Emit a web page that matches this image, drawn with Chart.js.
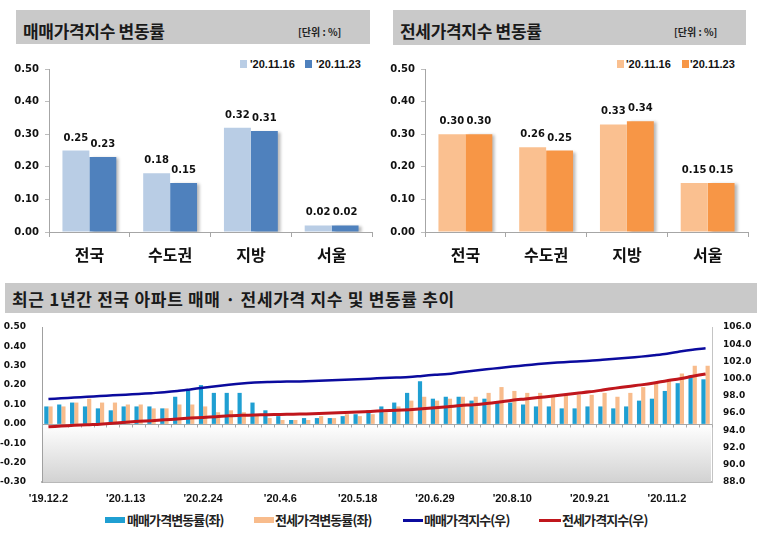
<!DOCTYPE html>
<html>
<head>
<meta charset="utf-8">
<script src="https://cdn.jsdelivr.net/npm/chart.js@4.4.0/dist/chart.umd.min.js"></script>
<style>
  body { margin: 0; width: 762px; height: 538px; background: #fff; overflow: hidden; position: relative; font-family: "Noto Sans CJK KR", sans-serif; }
  .bar { position: absolute; background: #c9c9c9; }
  .ttl { position: absolute; font-weight: bold; color: #1a1a1a; white-space: nowrap; }
  .unit { position: absolute; font-size: 10px; line-height: 10px; font-weight: bold; color: #222; white-space: nowrap; }
  .lg { position: absolute; font-family: "Liberation Sans", Arial, sans-serif; font-weight: bold; font-size: 11px; line-height: 11px; color: #111; white-space: nowrap; }
  .sw { position: absolute; }
  .blg { position: absolute; font-size: 13px; line-height: 13px; letter-spacing: -0.9px; font-weight: bold; color: #222; white-space: nowrap; }
  canvas { position: absolute; }
</style>
</head>
<body>

<div class="bar" style="left:16px;top:10px;width:354px;height:34px;">
  <span class="ttl" style="left:7px;top:12px;font-size:17px;line-height:17px;letter-spacing:-0.3px;">매매가격지수 변동률</span>
  <span class="unit" style="left:282px;top:17px;">[단위 : %]</span>
</div>
<div class="bar" style="left:393px;top:10px;width:353px;height:35px;">
  <span class="ttl" style="left:7px;top:12px;font-size:17px;line-height:17px;letter-spacing:-0.3px;">전세가격지수 변동률</span>
  <span class="unit" style="left:281px;top:17px;">[단위 : %]</span>
</div>
<div class="bar" style="left:5px;top:283px;width:752px;height:30px;">
  <span class="ttl" style="left:7px;top:7px;font-size:17px;line-height:17px;letter-spacing:0.7px;">최근 1년간 전국 아파트 매매 · 전세가격 지수 및 변동률 추이</span>
</div>

<div class="sw" style="left:240px;top:60px;width:7px;height:8px;background:#b9cde5;"></div>
<span class="lg" style="left:250px;top:59px;">'20.11.16</span>
<div class="sw" style="left:305px;top:60px;width:7px;height:8px;background:#4f81bd;"></div>
<span class="lg" style="left:316px;top:59px;">'20.11.23</span>

<div class="sw" style="left:617px;top:60px;width:7px;height:8px;background:#fac090;"></div>
<span class="lg" style="left:626px;top:59px;">'20.11.16</span>
<div class="sw" style="left:682px;top:60px;width:7px;height:8px;background:#f79646;"></div>
<span class="lg" style="left:690px;top:59px;">'20.11.23</span>

<canvas id="saleChart" width="380" height="228" style="left:0;top:50px;"></canvas>
<canvas id="jeonseChart" width="381" height="228" style="left:381px;top:50px;"></canvas>
<canvas id="trendChart" width="762" height="192" style="left:0;top:318px;"></canvas>

<div class="sw" style="left:105px;top:517px;width:20px;height:6px;background:#1f9fd2;"></div>
<span class="blg" style="left:127px;top:513px;">매매가격변동률(좌)</span>
<div class="sw" style="left:254px;top:517px;width:20px;height:6px;background:#f8bc8c;"></div>
<span class="blg" style="left:275px;top:513px;">전세가격변동률(좌)</span>
<div class="sw" style="left:403px;top:519px;width:20px;height:3px;background:#0b0b9e;"></div>
<span class="blg" style="left:424px;top:513px;">매매가격지수(우)</span>
<div class="sw" style="left:539px;top:519px;width:22px;height:3px;background:#c0161c;"></div>
<span class="blg" style="left:562px;top:513px;">전세가격지수(우)</span>

<script>
// top panels
const regions = ['전국', '수도권', '지방', '서울'];
const saleNov16 = [0.25, 0.18, 0.32, 0.02];
const saleNov23 = [0.23, 0.15, 0.31, 0.02];
const jeonseNov16 = [0.30, 0.26, 0.33, 0.15];
const jeonseNov23 = [0.30, 0.25, 0.34, 0.15];

// bottom panel, weekly
const weeks = ["'19.12.2", "'19.12.9", "'19.12.16", "'19.12.23", "'19.12.30",
  "'20.1.6", "'20.1.13", "'20.1.20", "'20.1.27", "'20.2.3", "'20.2.10", "'20.2.17", "'20.2.24",
  "'20.3.2", "'20.3.9", "'20.3.16", "'20.3.23", "'20.3.30", "'20.4.6", "'20.4.13", "'20.4.20", "'20.4.27",
  "'20.5.4", "'20.5.11", "'20.5.18", "'20.5.25", "'20.6.1", "'20.6.8", "'20.6.15", "'20.6.22", "'20.6.29",
  "'20.7.6", "'20.7.13", "'20.7.20", "'20.7.27", "'20.8.3", "'20.8.10", "'20.8.17", "'20.8.24", "'20.8.31",
  "'20.9.7", "'20.9.14", "'20.9.21", "'20.9.28", "'20.10.5", "'20.10.12", "'20.10.19", "'20.10.26",
  "'20.11.2", "'20.11.9", "'20.11.16", "'20.11.23"];
const saleChange = [0.09, 0.10, 0.11, 0.09, 0.08, 0.07, 0.09, 0.09, 0.09, 0.08,
  0.14, 0.17, 0.20, 0.16, 0.16, 0.16, 0.11, 0.07, 0.04, 0.02,
  0.03, 0.03, 0.03, 0.04, 0.05, 0.07, 0.09, 0.11, 0.16, 0.22,
  0.13, 0.14, 0.14, 0.12, 0.13, 0.11, 0.11, 0.10, 0.09, 0.09,
  0.08, 0.08, 0.09, 0.09, 0.08, 0.09, 0.12, 0.13, 0.17, 0.21, 0.25, 0.23];
const jeonseChange = [0.09, 0.09, 0.11, 0.13, 0.11, 0.11, 0.10, 0.10, 0.08, 0.08,
  0.10, 0.10, 0.09, 0.06, 0.07, 0.06, 0.05, 0.03, 0.02, 0.02,
  0.02, 0.04, 0.03, 0.05, 0.04, 0.05, 0.06, 0.09, 0.12, 0.14,
  0.12, 0.13, 0.14, 0.14, 0.16, 0.19, 0.17, 0.16, 0.16, 0.14,
  0.15, 0.15, 0.15, 0.16, 0.14, 0.16, 0.19, 0.21, 0.23, 0.26, 0.30, 0.30];
const saleIndex = [97.63, 97.72, 97.81, 97.90, 97.98, 98.06, 98.14, 98.22, 98.32, 98.42,
  98.56, 98.75, 98.95, 99.12, 99.30, 99.45, 99.55, 99.62, 99.65, 99.67,
  99.70, 99.75, 99.82, 99.88, 99.94, 100.00, 100.08, 100.13, 100.18, 100.32,
  100.45, 100.55, 100.75, 100.92, 101.08, 101.25, 101.40, 101.55, 101.70, 101.82,
  101.92, 102.00, 102.08, 102.20, 102.30, 102.42, 102.56, 102.72, 102.90, 103.15, 103.36, 103.52];
const jeonseIndex = [94.41, 94.50, 94.58, 94.66, 94.72, 94.82, 94.95, 95.05, 95.12, 95.22,
  95.32, 95.42, 95.50, 95.58, 95.68, 95.74, 95.78, 95.81, 95.84, 95.87,
  95.90, 95.95, 96.00, 96.06, 96.12, 96.20, 96.27, 96.33, 96.40, 96.50,
  96.62, 96.74, 96.88, 96.98, 97.12, 97.30, 97.50, 97.65, 97.80, 97.95,
  98.12, 98.30, 98.47, 98.68, 98.90, 99.10, 99.28, 99.50, 99.77, 100.00, 100.28, 100.55];

Chart.defaults.font.family = 'DejaVu Sans';
Chart.defaults.color = '#111';
Chart.defaults.animation = false;

// soft shadow to the right of the second (darker) bar of each pair
const barShadow = {
  id: 'barShadow',
  beforeDatasetDraw(chart, args) {
    const c = chart.ctx;
    c.save();
    if (args.index === 1) {
      c.shadowColor = 'rgba(0,0,0,0.28)';
      c.shadowBlur = 3;
      c.shadowOffsetX = 3;
      c.shadowOffsetY = 1;
    }
  },
  afterDatasetDraw(chart) { chart.ctx.restore(); }
};

const valueLabels = {
  id: 'valueLabels',
  afterDatasetsDraw(chart) {
    const c = chart.ctx;
    c.save();
    c.font = 'bold 10px "DejaVu Sans"';
    c.fillStyle = '#111';
    c.textAlign = 'center';
    c.textBaseline = 'alphabetic';
    chart.data.datasets.forEach((ds, i) => {
      chart.getDatasetMeta(i).data.forEach((bar, j) => {
        c.fillText(ds.data[j].toFixed(2), bar.x, bar.y - 10);
      });
    });
    c.restore();
  }
};

function makeTop(id, light, dark, cLight, cDark, padRight, yWidth) {
  return new Chart(document.getElementById(id), {
    type: 'bar',
    data: {
      labels: regions,
      datasets: [
        { label: "'20.11.16", data: light, backgroundColor: cLight },
        { label: "'20.11.23", data: dark, backgroundColor: cDark }
      ]
    },
    options: {
      responsive: false,
      layout: { padding: { top: 19, right: padRight, left: 0, bottom: 0 } },
      datasets: { bar: { categoryPercentage: 0.667, barPercentage: 1 } },
      plugins: { legend: { display: false }, tooltip: { enabled: false } },
      scales: {
        x: {
          grid: { drawOnChartArea: false, offset: true, tickLength: 5, color: '#a6a6a6' },
          border: { color: '#a6a6a6' },
          ticks: { font: { family: 'Noto Sans CJK KR', size: 16, weight: 'bold' }, color: '#111', padding: 8 },
          afterFit(s) { s.height = 46; }
        },
        y: {
          min: 0, max: 0.5,
          grid: { drawOnChartArea: false, tickLength: 4, color: '#bdbdbd' },
          border: { color: '#a6a6a6' },
          ticks: { stepSize: 0.1, font: { size: 10, weight: 'bold' }, color: '#111', padding: 6,
                   callback: v => v.toFixed(2) },
          afterFit(s) { s.width = yWidth; }
        }
      }
    },
    plugins: [barShadow, valueLabels]
  });
}

makeTop('saleChart', saleNov16, saleNov23, '#b9cde5', '#4f81bd', 8, 49);
makeTop('jeonseChart', jeonseNov16, jeonseNov23, '#fac090', '#f79646', 14, 44);

// shading under zero, zero line and its tick marks
const plotDecor = {
  id: 'plotDecor',
  beforeDatasetsDraw(chart) {
    const { ctx, chartArea: a, scales: { x, y } } = chart;
    const y0 = Math.round(y.getPixelForValue(0)) + 0.5;
    const g = ctx.createLinearGradient(0, y0, 0, a.bottom);
    g.addColorStop(0, '#ffffff');
    g.addColorStop(1, '#d2d2d2');
    ctx.save();
    ctx.fillStyle = g;
    ctx.fillRect(a.left + 1, y0, a.right - a.left - 2, a.bottom - y0);
    ctx.strokeStyle = '#a8a8a8';
    ctx.lineWidth = 1;
    ctx.beginPath();
    ctx.moveTo(a.left, y0);
    ctx.lineTo(a.right, y0);
    const n = chart.data.labels.length;
    const step = x.getPixelForValue(1) - x.getPixelForValue(0);
    for (let i = 0; i <= n; i++) {
      const px = Math.round(x.getPixelForValue(0) - step / 2 + i * step) + 0.5;
      ctx.moveTo(px, y0);
      ctx.lineTo(px, y0 + 3);
    }
    ctx.stroke();
    ctx.restore();
  }
};

new Chart(document.getElementById('trendChart'), {
  data: {
    labels: weeks,
    datasets: [
      { type: 'line', label: '매매가격지수(우)', data: saleIndex, yAxisID: 'y2', borderColor: '#0b0b9e',
        borderWidth: 2.5, pointRadius: 0, tension: 0.3, order: 0 },
      { type: 'line', label: '전세가격지수(우)', data: jeonseIndex, yAxisID: 'y2', borderColor: '#c0161c',
        borderWidth: 3, pointRadius: 0, tension: 0.3, order: 0 },
      { type: 'bar', label: '매매가격변동률(좌)', data: saleChange, yAxisID: 'y', backgroundColor: '#1f9fd2',
        categoryPercentage: 0.65, barPercentage: 1, order: 2 },
      { type: 'bar', label: '전세가격변동률(좌)', data: jeonseChange, yAxisID: 'y', backgroundColor: '#f8bc8c',
        categoryPercentage: 0.65, barPercentage: 1, order: 2 }
    ]
  },
  options: {
    responsive: false,
    layout: { autoPadding: false, padding: { top: 9, right: 0, left: 0, bottom: 0 } },
    plugins: { legend: { display: false }, tooltip: { enabled: false } },
    scales: {
      x: {
        offset: true,
        grid: { display: false, drawTicks: false },
        border: { color: '#b8b8b8', width: 2 },
        ticks: { autoSkip: false, maxRotation: 0, padding: 10,
                 font: { family: 'Liberation Sans', size: 11, weight: 'bold' }, color: '#111',
                 callback: (v, i) => (i % 6 === 0 ? weeks[i] : '') },
        afterFit(s) { s.height = 28; }
      },
      y: {
        position: 'left', min: -0.3, max: 0.5,
        // hidden tick length keeps the labels off the axis without inflating the top padding
        grid: { display: false, drawTicks: true, tickLength: 14 },
        border: { color: '#a0a0a0' },
        ticks: { stepSize: 0.1, padding: 2, font: { size: 9, weight: 'bold' }, color: '#111',
                 callback: v => (Math.abs(v) < 1e-9 ? 0 : v).toFixed(2) },
        afterFit(s) { s.width = 42; }
      },
      y2: {
        position: 'right', min: 88, max: 106,
        grid: { display: false, drawTicks: true, tickLength: 9 },
        border: { color: '#c4c4c4' },
        ticks: { stepSize: 2, padding: 2, font: { size: 9, weight: 'bold' }, color: '#111',
                 callback: v => v.toFixed(1) },
        afterFit(s) { s.width = 50; }
      }
    }
  },
  plugins: [plotDecor]
});
</script>
</body>
</html>
